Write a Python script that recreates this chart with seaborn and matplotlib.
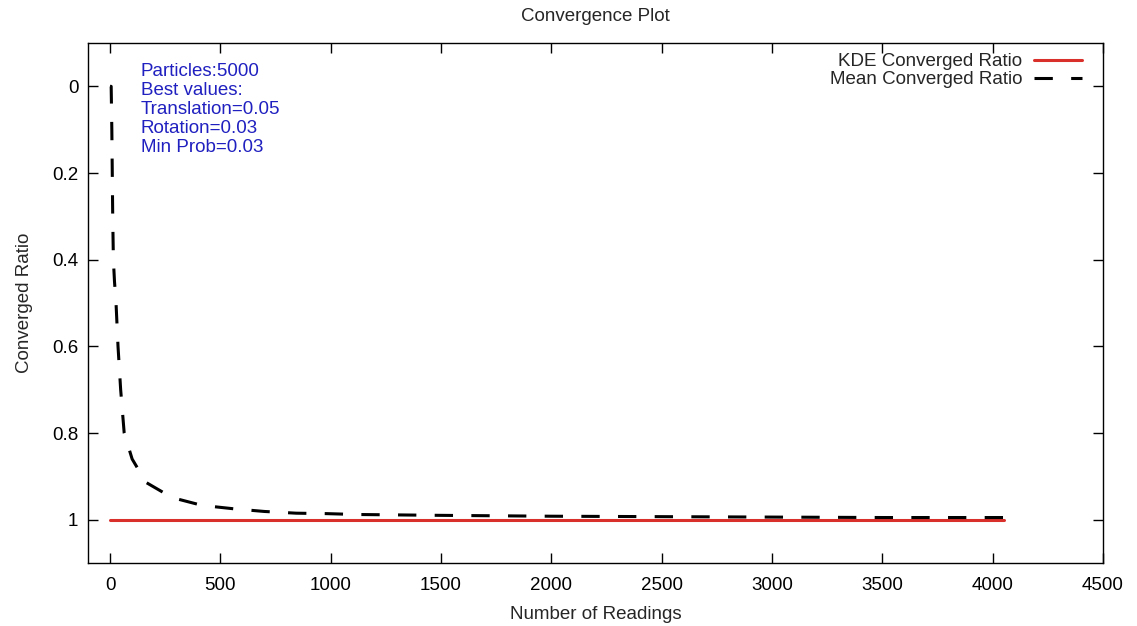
import numpy as np
import pandas as pd
import matplotlib
matplotlib.use("Agg")
import matplotlib.pyplot as plt
import seaborn as sns

# readings (x) and converged ratio values
mean_x = [0, 5, 8, 10, 12, 15, 20, 27, 36, 48, 64, 100, 163, 281, 417, 563,
          699, 844, 980, 1116, 1500, 2000, 2500, 3000, 3500, 4050]
mean_y = [0.0, 0.0, 0.1, 0.2, 0.3, 0.4, 0.45, 0.5, 0.6, 0.7, 0.8, 0.86, 0.914,
          0.949, 0.967, 0.975, 0.981, 0.985, 0.986, 0.988, 0.99, 0.992, 0.993,
          0.994, 0.995, 0.995]
kde_x = [0, 4050]
kde_y = [1.0, 1.0]

info_text = "Particles:5000\nBest values:\nTranslation=0.05\nRotation=0.03\nMin Prob=0.03"

df = pd.concat([
    pd.DataFrame({"readings": kde_x, "ratio": kde_y, "series": "KDE Converged Ratio"}),
    pd.DataFrame({"readings": mean_x, "ratio": mean_y, "series": "Mean Converged Ratio"}),
])

sns.set_style("ticks")
plt.rcParams["font.family"] = ["Liberation Sans", "DejaVu Sans"]
fs = 13.5

fig = plt.figure(figsize=(11.37, 6.26), dpi=100)
ax = fig.add_axes([0.0774, 0.1006, 0.8927, 0.8307])

sns.lineplot(data=df, x="readings", y="ratio", hue="series", style="series",
             palette={"KDE Converged Ratio": "#d9302c", "Mean Converged Ratio": "black"},
             dashes={"KDE Converged Ratio": "", "Mean Converged Ratio": (6, 6)},
             sort=False, estimator=None, linewidth=2.2, ax=ax)

ax.set_xlim(-100, 4500)
ax.set_ylim(1.1, -0.1)
ax.set_xticks(np.arange(0, 4501, 500))
ax.set_yticks([0, 0.2, 0.4, 0.6, 0.8, 1])
ax.set_yticklabels(["0", "0.2", "0.4", "0.6", "0.8", "1"])
ax.tick_params(direction="in", top=True, right=True, length=7, width=1,
               labelsize=fs, colors="black")
ax.tick_params(axis="x", pad=10)
ax.tick_params(axis="y", pad=7)
for s in ax.spines.values():
    s.set_linewidth(1)
    s.set_color("black")

ax.set_xlabel("Number of Readings", fontsize=fs, labelpad=9)
ax.set_ylabel("Converged Ratio", fontsize=fs, labelpad=14)
ax.set_title("Convergence Plot", fontsize=fs, pad=16)

ax.text(0.052, 0.962, info_text, transform=ax.transAxes, color="#2020c0",
        fontsize=fs, va="top", ha="left", linespacing=1.15)

handles, labels = ax.get_legend_handles_labels()
ax.legend(handles, labels, loc="upper right", bbox_to_anchor=(0.987, 0.995),
          frameon=False, markerfirst=False, fontsize=fs, handlelength=2.6,
          handletextpad=0.6, labelspacing=0.05, borderaxespad=0, title=None)

fig.savefig("out.png", dpi=100)
